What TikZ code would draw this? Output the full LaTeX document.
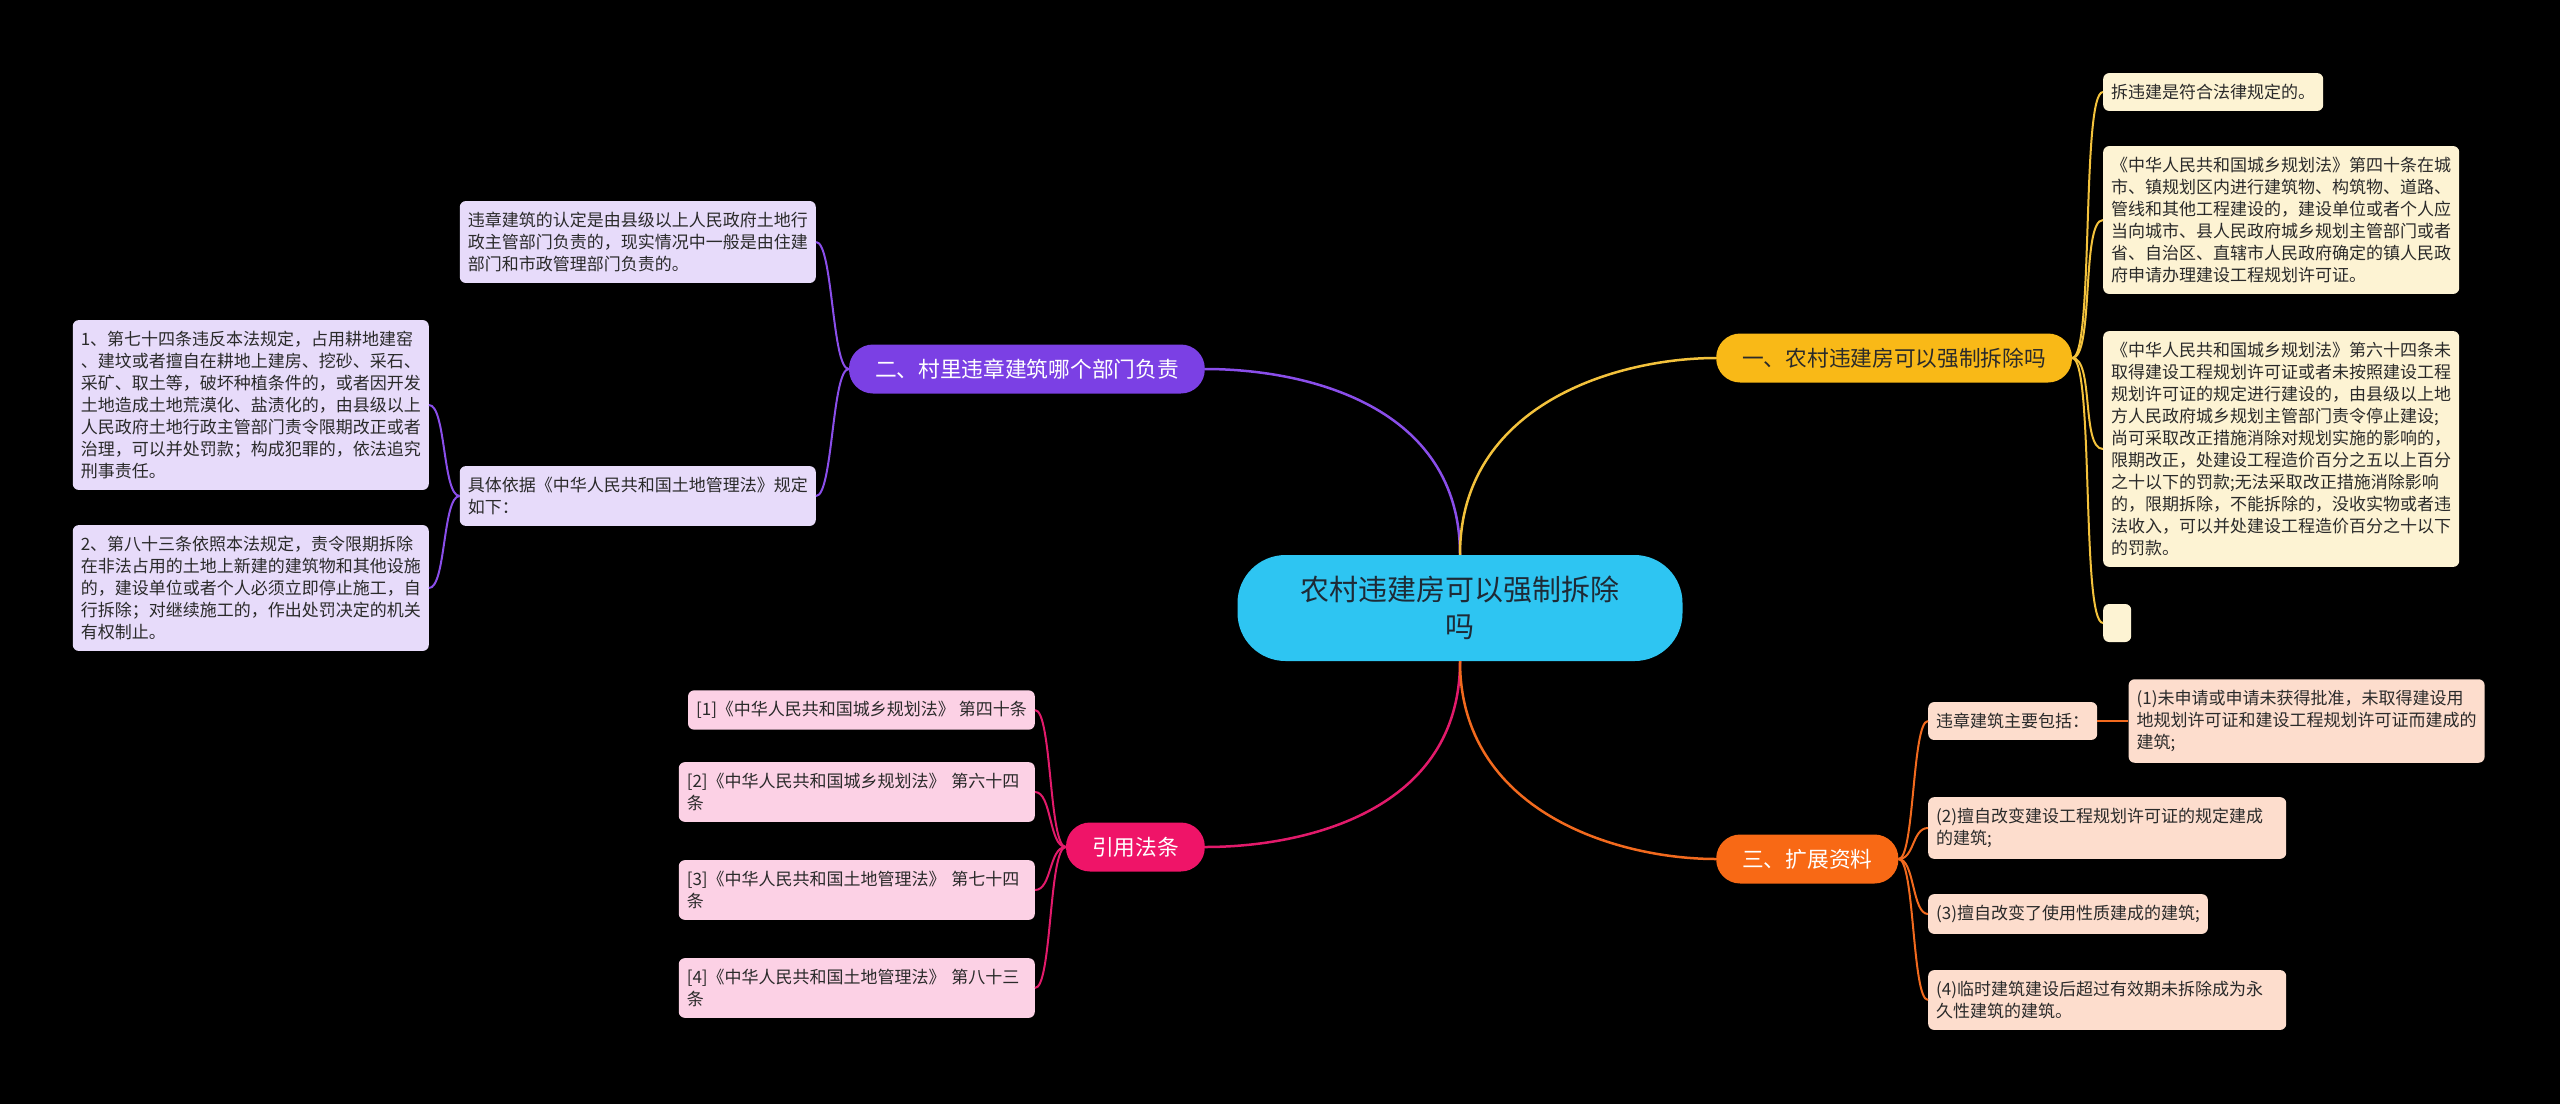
\documentclass[tikz,border=0pt]{standalone}
\usepackage{fontspec}
\setmainfont{Noto Sans CJK SC}
\usepackage{xcolor}
\usetikzlibrary{positioning}

\definecolor{rootblue}{HTML}{2EC5F2}
\definecolor{ybranch}{HTML}{F9B917}
\definecolor{pbranch}{HTML}{7B40E4}
\definecolor{obranch}{HTML}{F86915}
\definecolor{kbranch}{HTML}{EF1468}
\definecolor{yleaffill}{HTML}{FDF3D3}
\definecolor{pleaffill}{HTML}{E7DBFA}
\definecolor{oleaffill}{HTML}{FDDDCD}
\definecolor{kleaffill}{HTML}{FCD1E5}
\definecolor{yline}{HTML}{F3C23C}
\definecolor{pline}{HTML}{8A4EEA}
\definecolor{oline}{HTML}{F26A1E}
\definecolor{kline}{HTML}{E21A6B}
\definecolor{leaftext}{HTML}{2A2A2A}
\definecolor{roottext}{HTML}{1E2A36}

\begin{document}
\begin{tikzpicture}[
    x=1pt, y=1pt,
    root/.style={fill=rootblue, rounded corners=48pt, minimum width=445pt, minimum height=106pt, align=center, text=roottext, font=\fontsize{29pt}{37.5pt}\selectfont},
    branch/.style={rounded corners=24pt, minimum height=49pt, inner xsep=26pt, inner ysep=0pt, font=\fontsize{21.7pt}{26pt}\selectfont},
    leaf/.style={rounded corners=6pt, inner xsep=8pt, inner ysep=11pt, align=left, text=leaftext, font=\fontsize{17pt}{22pt}\selectfont},
    link/.style={line width=2.5pt},
    twig/.style={line width=2pt}
]
\fill[black] (0,0) rectangle (2560,-1104);
\useasboundingbox (0,0) rectangle (2560,-1104);

\node[root] (root) at (1460,-608) {农村违建房可以强制拆除\\吗};

\node[branch, fill=ybranch, text=leaftext, anchor=west] (ybr) at (1716,-358) {一、农村违建房可以强制拆除吗};
\node[branch, fill=pbranch, text=white, anchor=east] (pbr) at (1205,-369) {二、村里违章建筑哪个部门负责};
\node[branch, fill=obranch, text=white, anchor=west] (obr) at (1716,-859) {三、扩展资料};
\node[branch, fill=kbranch, text=white, anchor=east] (kbr) at (1205,-847) {引用法条};

% branch one
\node[leaf, fill=yleaffill, anchor=west] (y1) at (2103,-92) {拆违建是符合法律规定的。};
\node[leaf, fill=yleaffill, anchor=west] (y2) at (2103,-220) {《中华人民共和国城乡规划法》第四十条在城\\
市、镇规划区内进行建筑物、构筑物、道路、\\
管线和其他工程建设的，建设单位或者个人应\\
当向城市、县人民政府城乡规划主管部门或者\\
省、自治区、直辖市人民政府确定的镇人民政\\
府申请办理建设工程规划许可证。};
\node[leaf, fill=yleaffill, anchor=west] (y3) at (2103,-449) {《中华人民共和国城乡规划法》第六十四条未\\
取得建设工程规划许可证或者未按照建设工程\\
规划许可证的规定进行建设的，由县级以上地\\
方人民政府城乡规划主管部门责令停止建设;\\
尚可采取改正措施消除对规划实施的影响的，\\
限期改正，处建设工程造价百分之五以上百分\\
之十以下的罚款;无法采取改正措施消除影响\\
的，限期拆除，不能拆除的，没收实物或者违\\
法收入，可以并处建设工程造价百分之十以下\\
的罚款。};
\node[leaf, fill=yleaffill, anchor=west, minimum width=28pt, minimum height=38pt] (y4) at (2103,-623) {};

% branch two
\node[leaf, fill=pleaffill, anchor=east] (p1) at (816,-242) {违章建筑的认定是由县级以上人民政府土地行\\
政主管部门负责的，现实情况中一般是由住建\\
部门和市政管理部门负责的。};
\node[leaf, fill=pleaffill, anchor=east] (p2) at (816,-496) {具体依据《中华人民共和国土地管理法》规定\\
如下：};
\node[leaf, fill=pleaffill, anchor=east] (p21) at (429,-405) {1、第七十四条违反本法规定，占用耕地建窑\\
、建坟或者擅自在耕地上建房、挖砂、采石、\\
采矿、取土等，破坏种植条件的，或者因开发\\
土地造成土地荒漠化、盐渍化的，由县级以上\\
人民政府土地行政主管部门责令限期改正或者\\
治理，可以并处罚款；构成犯罪的，依法追究\\
刑事责任。};
\node[leaf, fill=pleaffill, anchor=east] (p22) at (429,-588) {2、第八十三条依照本法规定，责令限期拆除\\
在非法占用的土地上新建的建筑物和其他设施\\
的，建设单位或者个人必须立即停止施工，自\\
行拆除；对继续施工的，作出处罚决定的机关\\
有权制止。};

% branch three
\node[leaf, fill=oleaffill, anchor=west] (o1) at (1928,-721) {违章建筑主要包括：};
\node[leaf, fill=oleaffill, right=31pt of o1] (o1b) {(1)未申请或申请未获得批准，未取得建设用\\
地规划许可证和建设工程规划许可证而建成的\\
建筑;};
\node[leaf, fill=oleaffill, anchor=west, text width=342pt] (o2) at (1928,-828) {(2)擅自改变建设工程规划许可证的规定建成\\
的建筑;};
\node[leaf, fill=oleaffill, anchor=west] (o3) at (1928,-914) {(3)擅自改变了使用性质建成的建筑;};
\node[leaf, fill=oleaffill, anchor=west, text width=342pt] (o4) at (1928,-1000) {(4)临时建筑建设后超过有效期未拆除成为永\\
久性建筑的建筑。};

% references
\node[leaf, fill=kleaffill, anchor=east] (r1) at (1035,-710) {[1]《中华人民共和国城乡规划法》 第四十条};
\node[leaf, fill=kleaffill, anchor=east, text width=340pt] (r2) at (1035,-792) {[2]《中华人民共和国城乡规划法》 第六十四\\条};
\node[leaf, fill=kleaffill, anchor=east, text width=340pt] (r3) at (1035,-890) {[3]《中华人民共和国土地管理法》 第七十四\\条};
\node[leaf, fill=kleaffill, anchor=east, text width=340pt] (r4) at (1035,-988) {[4]《中华人民共和国土地管理法》 第八十三\\条};

% root links
\draw[link, pline] (root.north) .. controls +(0,150) and +(100,0) .. (pbr.east);
\draw[link, yline] (root.north) .. controls +(0,150) and +(-100,0) .. (ybr.west);
\draw[link, kline] (root.south) .. controls +(0,-150) and +(100,0) .. (kbr.east);
\draw[link, oline] (root.south) .. controls +(0,-150) and +(-100,0) .. (obr.west);

% leaf links
\draw[twig, yline] (ybr.east) .. controls +(22,0) and +(-22,0) .. (y1.west);
\draw[twig, yline] (ybr.east) .. controls +(22,0) and +(-22,0) .. (y2.west);
\draw[twig, yline] (ybr.east) .. controls +(22,0) and +(-22,0) .. (y3.west);
\draw[twig, yline] (ybr.east) .. controls +(22,0) and +(-22,0) .. (y4.west);
\draw[twig, pline] (pbr.west) .. controls +(-17,0) and +(17,0) .. (p1.east);
\draw[twig, pline] (pbr.west) .. controls +(-17,0) and +(17,0) .. (p2.east);
\draw[twig, pline] (p2.west) .. controls +(-17,0) and +(17,0) .. (p21.east);
\draw[twig, pline] (p2.west) .. controls +(-17,0) and +(17,0) .. (p22.east);
\draw[twig, oline] (obr.east) .. controls +(16,0) and +(-16,0) .. (o1.west);
\draw[twig, oline] (obr.east) .. controls +(16,0) and +(-16,0) .. (o2.west);
\draw[twig, oline] (obr.east) .. controls +(16,0) and +(-16,0) .. (o3.west);
\draw[twig, oline] (obr.east) .. controls +(16,0) and +(-16,0) .. (o4.west);
\draw[twig, oline] (o1) -- (o1b);
\draw[twig, kline] (kbr.west) .. controls +(-17,0) and +(17,0) .. (r1.east);
\draw[twig, kline] (kbr.west) .. controls +(-17,0) and +(17,0) .. (r2.east);
\draw[twig, kline] (kbr.west) .. controls +(-17,0) and +(17,0) .. (r3.east);
\draw[twig, kline] (kbr.west) .. controls +(-17,0) and +(17,0) .. (r4.east);

\end{tikzpicture}
\end{document}
